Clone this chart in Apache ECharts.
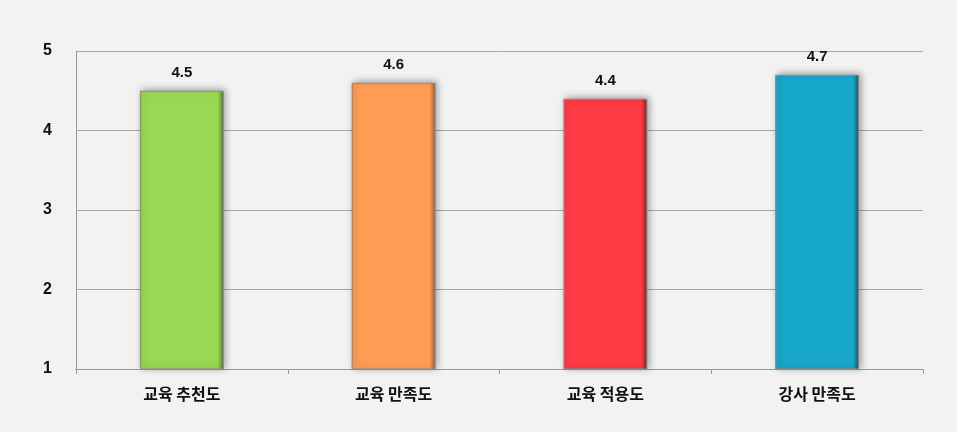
<!DOCTYPE html>
<html><head><meta charset="utf-8">
<script src="https://cdn.jsdelivr.net/npm/echarts@6/dist/echarts.min.js"></script>
<style>html,body{margin:0;padding:0;background:#f2f2f2}#c{width:957px;height:432px}</style>
</head><body><div id="c"></div>
<script>
var categories = ['교육 추천도', '교육 만족도', '교육 적용도', '강사 만족도'];
var values = [4.5, 4.6, 4.4, 4.7];
var barColors = ['#9ad854', '#ff9d55', '#ff3b45', '#17a7cc'];
var darkColors = ['#4f7a22', '#a85a22', '#8e1a21', '#0a5a72'];
var yTicks = [1, 2, 3, 4, 5];

var chart = echarts.init(document.getElementById('c'));
var data = values.map(function (v, i) {
  return {
    value: v,
    itemStyle: {
      color: new echarts.graphic.LinearGradient(0, 0, 1, 0, [
        {offset: 0, color: '#8a8a8a'},
        {offset: 0.025, color: barColors[i]},
        {offset: 0.93, color: barColors[i]},
        {offset: 1, color: darkColors[i]}
      ]),
      borderColor: '#8c8c8c',
      borderWidth: 1,
      shadowColor: 'rgba(0,0,0,0.35)',
      shadowBlur: 7,
      shadowOffsetX: 2,
      shadowOffsetY: -1
    }
  };
});
chart.setOption({
  backgroundColor: '#f2f2f2',
  animation: false,
  grid: {left: 76, right: 34, top: 51, bottom: 63},
  xAxis: {
    type: 'category',
    data: categories,
    boundaryGap: true,
    axisLine: {lineStyle: {color: '#999', width: 1}},
    axisTick: {show: true, length: 5, lineStyle: {color: '#999'}},
    axisLabel: {color: '#111', fontWeight: 'bold', fontSize: 16, margin: 17, fontFamily: '"Noto Sans CJK KR", sans-serif'}
  },
  yAxis: {
    type: 'value',
    min: yTicks[0],
    max: yTicks[yTicks.length - 1],
    interval: 1,
    axisLine: {show: true, lineStyle: {color: '#999'}},
    axisTick: {show: false},
    splitLine: {lineStyle: {color: '#a6a6a6'}},
    axisLabel: {color: '#111', fontWeight: 'bold', fontSize: 16, margin: 24, fontFamily: 'Arial, "Liberation Sans", sans-serif'}
  },
  series: [{
    type: 'bar',
    data: data,
    barWidth: 84,
    label: {
      show: true,
      position: 'top',
      distance: 10,
      color: '#111',
      fontWeight: 'bold',
      fontSize: 15,
      fontFamily: 'Arial, "Liberation Sans", sans-serif',
      formatter: function (p) { return p.value.toFixed(1); }
    }
  }]
});
</script></body></html>
